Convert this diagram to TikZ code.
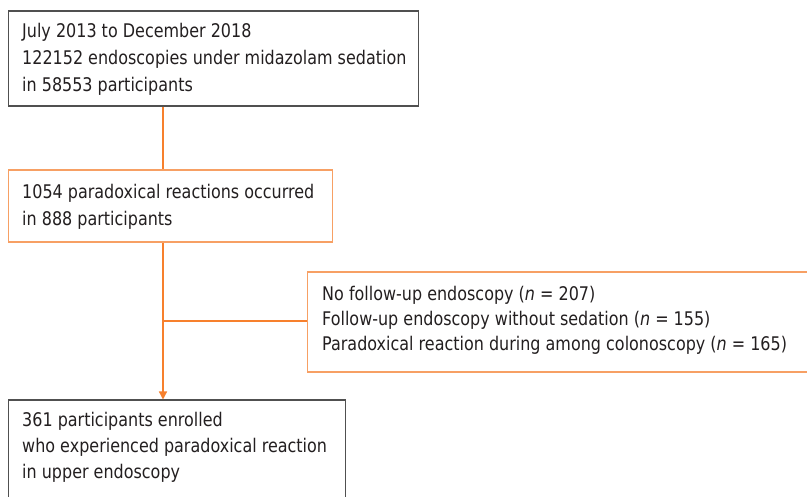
\documentclass[tikz,border=0pt]{standalone}
\usepackage{fontspec}
\setmainfont{DejaVu Sans}[FakeStretch=0.85]
\usetikzlibrary{arrows.meta}
\definecolor{boxgray}{RGB}{80,80,80}
\definecolor{boxorange}{RGB}{247,160,100}
\definecolor{lineorange}{RGB}{247,128,45}
\definecolor{txt}{RGB}{35,31,32}
\newcommand\flowlines[2]{\vtop{\baselineskip=#1\lineskiplimit=-10pt #2}}
\tikzset{
  graybox/.style={draw=boxgray, line width=1.2pt, inner sep=0pt, anchor=north west},
  orangebox/.style={draw=boxorange, line width=1.2pt, inner sep=0pt, anchor=north west},
  flowtext/.style={anchor=base west, inner sep=0pt, text=txt, font=\fontsize{18.8pt}{22pt}\selectfont},
  conn/.style={draw=lineorange, line width=1.3pt},
  arr/.style={conn, -{Triangle[length=8pt,width=8pt]}}
}
\begin{document}
\begin{tikzpicture}[x=1pt,y=-1pt]
\useasboundingbox (0,0) rectangle (807,497);
\fill[white] (0,0) rectangle (807,497);
\clip (0,0) rectangle (807,497);
\node[graybox, minimum width=410pt, minimum height=95pt] (b1) at (8,10.5) {};
\node[orangebox, minimum width=324pt, minimum height=72pt] (b2) at (8,169.5) {};
\node[orangebox, minimum width=523pt, minimum height=100pt] (b3) at (307,271.5) {};
\node[graybox, minimum width=337pt, minimum height=120pt] (b4) at (8,399.5) {};
\node[flowtext] (t1) at (22,37.7) {\flowlines{27pt}{\hbox{July 2013 to December 2018}\hbox{122152 endoscopies under midazolam sedation}\hbox{in 58553 participants}}};
\node[flowtext] (t2) at (22,199) {\flowlines{26.5pt}{\hbox{1054 paradoxical reactions occurred}\hbox{in 888 participants}}};
\node[flowtext] (t3) at (322,300.7) {\flowlines{25pt}{\hbox{No follow-up endoscopy (\textit{n} = 207)}\hbox{Follow-up endoscopy without sedation (\textit{n} = 155)}\hbox{Paradoxical reaction during among colonoscopy (\textit{n} = 165)}}};
\node[flowtext] (t4) at (22,426.7) {\flowlines{26pt}{\hbox{361 participants enrolled}\hbox{who experienced paradoxical reaction}\hbox{in upper endoscopy}}};
\coordinate (spine) at (163,0);
\coordinate (junction) at (163,321);
\draw[conn] (b1.south -| spine) -- (b2.north -| spine);
\draw[arr] (b2.south -| spine) -- (b4.north -| spine);
\draw[conn] (junction) -- (junction -| b3.west);
\end{tikzpicture}
\end{document}
